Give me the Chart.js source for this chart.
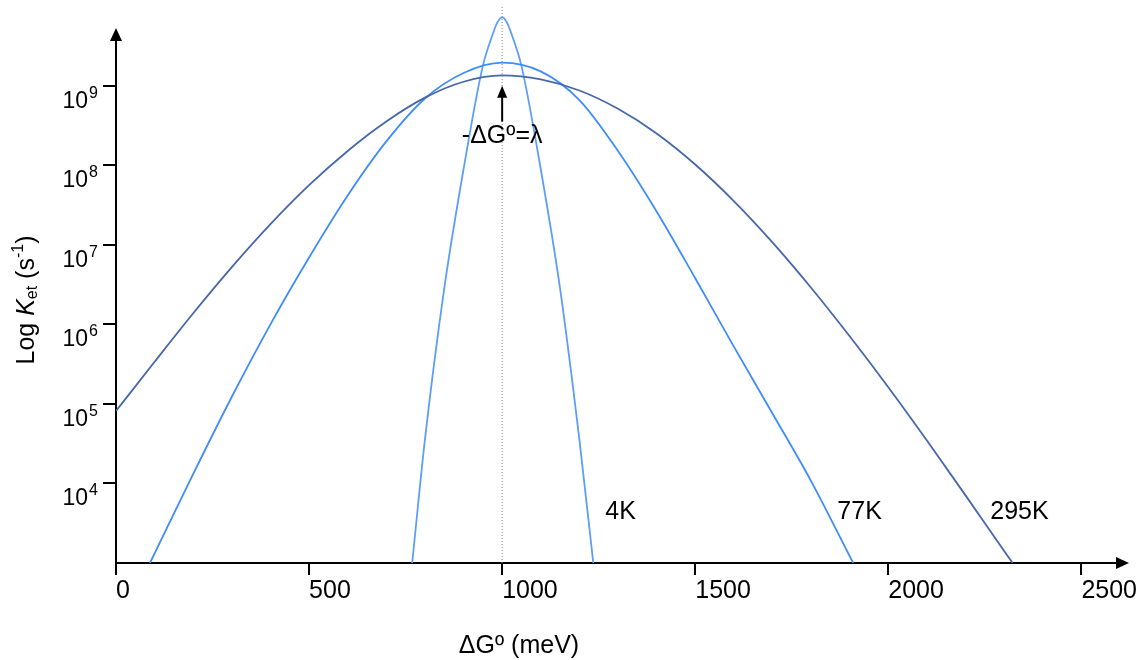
<!DOCTYPE html>
<html>
<head>
<meta charset="utf-8">
<script src="https://cdn.jsdelivr.net/npm/chart.js@4.4.1/dist/chart.umd.min.js"></script>
<style>
  html, body { margin: 0; padding: 0; background: #fff; }
  #wrap { width: 1146px; height: 660px; position: relative; }
</style>
</head>
<body>
<div id="wrap"><canvas id="marcusChart"></canvas></div>
<script>
// driving force (meV) and log10 of the rate
const g4K = [767, 800, 850, 900, 950, 975, 988, 1000, 1012, 1025, 1050, 1100, 1150, 1200, 1236];
const log4K = [3.0, 4.55, 6.45, 7.95, 9.25, 9.64, 9.80, 9.86, 9.80, 9.64, 9.25, 7.95, 6.45, 4.55, 3.0];

const g77K = [88, 200, 300, 400, 500, 600, 700, 800, 900, 1000, 1100, 1200, 1300, 1400, 1500, 1600, 1700, 1800, 1909];
const log77K = [3.0, 4.12, 5.09, 6.00, 6.84, 7.62, 8.30, 8.84, 9.16, 9.29, 9.18, 8.82, 8.18, 7.42, 6.58, 5.72, 4.88, 4.03, 3.0];

const g295K = [0, 100, 200, 300, 400, 500, 600, 700, 800, 900, 1000, 1100, 1200, 1300, 1400, 1500, 1600, 1700, 1800, 1900, 2000, 2100, 2200, 2300, 2322];
const log295K = [4.91, 5.53, 6.14, 6.72, 7.26, 7.75, 8.18, 8.55, 8.85, 9.05, 9.13, 9.08, 8.94, 8.71, 8.40, 8.01, 7.55, 7.03, 6.46, 5.85, 5.21, 4.54, 3.85, 3.15, 3.0];

const xTicks = [0, 500, 1000, 1500, 2000, 2500];
const yExps = [4, 5, 6, 7, 8, 9];

const curveNames = ['4K', '77K', '295K'];
const curveLabelX = [1267, 1868, 2264];
const curveLabelY = 3.64;

const lambda = 1000;        // -ΔGº = λ
const arrowFrom = 8.55, arrowTo = 9.0;

const FONT = '"Liberation Sans", Arial, sans-serif';

function pts(xs, ys) {
    return xs.map((v, i) => ({ x: v, y: ys[i] }));
}

function richText(ctx, parts, x, y) {
    // parts: [text, size, style, dy]
    let w = 0;
    parts.forEach(p => { ctx.font = p[2] + ' ' + p[1] + 'px ' + FONT; w += ctx.measureText(p[0]).width; });
    let cx = x - w / 2;
    parts.forEach(p => {
        ctx.font = p[2] + ' ' + p[1] + 'px ' + FONT;
        ctx.fillText(p[0], cx, y + p[3]);
        cx += ctx.measureText(p[0]).width;
    });
}

const decor = {
    id: 'decor',
    afterDraw(chart) {
        const { ctx, chartArea: a, scales: { x, y } } = chart;
        ctx.save();
        ctx.fillStyle = '#000';

        // axis arrow heads
        ctx.beginPath();
        ctx.moveTo(a.left, a.top - 10);
        ctx.lineTo(a.left - 6, a.top + 3);
        ctx.lineTo(a.left + 6, a.top + 3);
        ctx.closePath();
        ctx.fill();
        ctx.beginPath();
        ctx.moveTo(a.right + 9, a.bottom);
        ctx.lineTo(a.right - 4, a.bottom - 6);
        ctx.lineTo(a.right - 4, a.bottom + 6);
        ctx.closePath();
        ctx.fill();

        // y tick labels 10^n
        ctx.textBaseline = 'alphabetic';
        ctx.textAlign = 'left';
        y.ticks.forEach(t => {
            const py = y.getPixelForValue(t.value);
            ctx.font = '16px ' + FONT;
            const ew = ctx.measureText(String(t.value)).width;
            ctx.font = '23px ' + FONT;
            const bw = ctx.measureText('10').width;
            const right = 98;
            ctx.fillText('10', right - ew - bw - 1, py + 22);
            ctx.font = '16px ' + FONT;
            ctx.fillText(String(t.value), right - ew, py + 12);
        });

        // arrow at -ΔGº = λ
        const ax = x.getPixelForValue(lambda);
        const y0 = y.getPixelForValue(arrowFrom), y1 = y.getPixelForValue(arrowTo);
        ctx.strokeStyle = '#000';
        ctx.lineWidth = 2;
        ctx.beginPath();
        ctx.moveTo(ax, y0);
        ctx.lineTo(ax, y1 + 10);
        ctx.stroke();
        ctx.beginPath();
        ctx.moveTo(ax, y1);
        ctx.lineTo(ax - 5, y1 + 12);
        ctx.lineTo(ax + 5, y1 + 12);
        ctx.closePath();
        ctx.fill();
        ctx.textAlign = 'left';
        ctx.textBaseline = 'middle';
        richText(ctx, [['-ΔGº=λ', 25, 'normal', 0]], ax, y0 + 15);

        // curve labels
        ctx.font = '25px ' + FONT;
        curveNames.forEach((n, i) => {
            ctx.fillText(n, x.getPixelForValue(curveLabelX[i]), y.getPixelForValue(curveLabelY));
        });

        // axis titles
        ctx.textAlign = 'center';
        ctx.font = '25px ' + FONT;
        ctx.fillText('ΔGº (meV)', 519, 646);

        ctx.translate(27, 300);
        ctx.rotate(-Math.PI / 2);
        ctx.textAlign = 'left';
        ctx.textBaseline = 'middle';
        richText(ctx, [
            ['Log ', 25, 'normal', 0],
            ['K', 25, 'italic', 0],
            ['et', 16, 'normal', 6],
            [' (s', 25, 'normal', 0],
            ['-1', 16, 'normal', -8],
            [')', 25, 'normal', 0]
        ], 0, 0);
        ctx.restore();
    }
};

const ctx = document.getElementById('marcusChart').getContext('2d');
new Chart(ctx, {
    type: 'line',
    data: {
        datasets: [
            {
                label: 'guide',
                data: [{ x: lambda, y: 3 }, { x: lambda, y: 10 }],
                borderColor: '#8a8a8a',
                borderWidth: 1,
                borderDash: [1, 2],
                pointRadius: 0,
                clip: false
            },
            {
                label: '295K',
                data: pts(g295K, log295K),
                borderColor: '#4767ab',
                borderWidth: 1.8,
                pointRadius: 0,
                cubicInterpolationMode: 'monotone'
            },
            {
                label: '77K',
                data: pts(g77K, log77K),
                borderColor: '#3f8cfb',
                borderWidth: 1.8,
                pointRadius: 0,
                cubicInterpolationMode: 'monotone'
            },
            {
                label: '4K',
                data: pts(g4K, log4K),
                borderColor: '#5e9ef8',
                borderWidth: 1.8,
                pointRadius: 0,
                cubicInterpolationMode: 'monotone',
                clip: false
            }
        ]
    },
    options: {
        responsive: true,
        maintainAspectRatio: false,
        animation: false,
        events: [],
        layout: { padding: { top: 38, right: 26, left: 0, bottom: 0 } },
        plugins: { legend: { display: false }, tooltip: { enabled: false } },
        scales: {
            x: {
                type: 'linear',
                min: 0,
                max: 2600,
                afterBuildTicks: s => { s.ticks = xTicks.map(v => ({ value: v })); },
                afterFit: s => { s.height = 97; },
                ticks: {
                    align: 'start',
                    color: '#000',
                    padding: 1,
                    maxRotation: 0,
                    autoSkip: false,
                    font: { family: FONT, size: 25 },
                    callback: v => String(v)
                },
                grid: { drawOnChartArea: false, tickLength: 12, color: '#000', lineWidth: 2 },
                border: { color: '#000', width: 2 }
            },
            y: {
                type: 'linear',
                min: 3,
                max: 9.6,
                afterBuildTicks: s => { s.ticks = yExps.map(v => ({ value: v })); },
                afterFit: s => { s.width = 116; },
                ticks: { display: false },
                grid: { drawOnChartArea: false, tickLength: 13, color: '#000', lineWidth: 2 },
                border: { color: '#000', width: 2 }
            }
        }
    },
    plugins: [decor]
});
</script>
</body>
</html>
